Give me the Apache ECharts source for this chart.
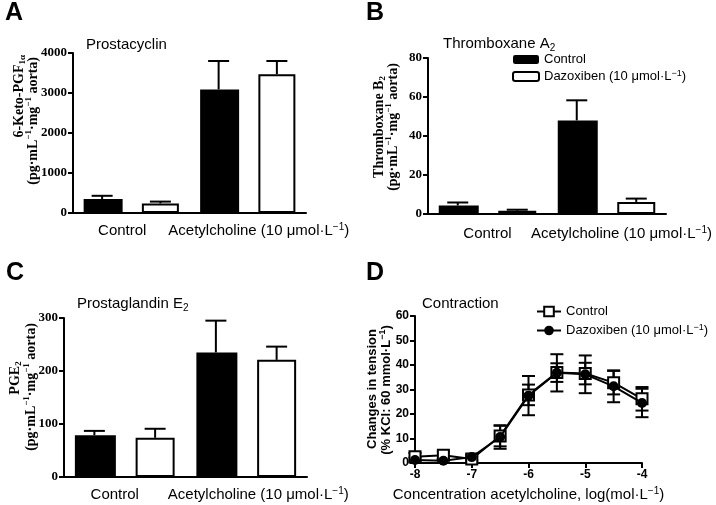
<!DOCTYPE html>
<html><head><meta charset="utf-8">
<script src="https://cdn.jsdelivr.net/npm/echarts@6/dist/echarts.min.js"></script>
<style>html,body{margin:0;padding:0;background:#fff}#c{width:716px;height:505px}</style>
</head><body><div id="c"></div>
<script>
// ---------- data ----------
const barSlots = ['Control/Control', 'Control/Dazoxiben', 'ACh/Control', 'ACh/Dazoxiben'];
const groupLabels = ['Control', 'Acetylcholine (10 μmol·L{sup|−1})'];
const seriesNames = ['Control', 'Dazoxiben (10 μmol·L−1)'];

// Panel A: 6-keto-PGF1α  [Control group, Acetylcholine group]
const pgiControl = [350, 3090];
const pgiControlErr = [80, 710];
const pgiDazoxiben = [240, 3470];
const pgiDazoxibenErr = [45, 330];
const pgiTicks = [0, 1000, 2000, 3000, 4000];

// Panel B: thromboxane B2
const txControl = [4.4, 48.0];
const txControlErr = [1.5, 10.3];
const txDazoxiben = [1.7, 6.2];
const txDazoxibenErr = [0.5, 1.7];
const txTicks = [0, 20, 40, 60, 80];

// Panel C: PGE2
const pgeControl = [79, 235];
const pgeControlErr = [8, 60];
const pgeDazoxiben = [74, 221];
const pgeDazoxibenErr = [17, 25];
const pgeTicks = [0, 100, 200, 300];

// Panel D: contraction
const logConc = [-8, -7.5, -7, -6.5, -6, -5.5, -5, -4.5, -4];
const contrControl = [2.6, 3.2, 1.6, 11.0, 27.8, 36.9, 36.5, 32.8, 26.2];
const contrControlErr = [1.5, 1.5, 1.0, 4.2, 4.2, 3.8, 4.4, 4.8, 4.8];
const contrDazoxiben = [1.2, 0.9, 2.4, 10.6, 27.5, 36.8, 36.2, 31.3, 24.5];
const contrDazoxibenErr = [1.0, 0.8, 1.0, 4.8, 8.0, 7.6, 7.7, 6.5, 5.8];
const contrYTicks = [0, 10, 20, 30, 40, 50, 60];
const contrXTicks = [-8, -7, -6, -5, -4];

// ---------- styling ----------
const SANS = 'Liberation Sans, Arial, sans-serif';
const SERIF = 'Liberation Serif, Times New Roman, serif';
const supStyle = (fs, ff, fw) => ({ fontSize: fs, fontFamily: ff, fontWeight: fw || 'normal', verticalAlign: 'top', lineHeight: fs, color: '#000' });
const subStyle = (fs, ff, fw) => ({ fontSize: fs, fontFamily: ff, fontWeight: fw || 'normal', verticalAlign: 'bottom', lineHeight: fs, color: '#000' });

const chart = echarts.init(document.getElementById('c'));

const grids = [
  { left: 73, top: 53, width: 233, height: 160 },
  { left: 428, top: 58, width: 238, height: 156 },
  { left: 64, top: 318, width: 243, height: 159 },
  { left: 415, top: 316, width: 227, height: 151 }
];

const barPanels = [
  { ctl: pgiControl, ctlE: pgiControlErr, daz: pgiDazoxiben, dazE: pgiDazoxibenErr, ticks: pgiTicks, barW: 39, pad: [[0, 18, 0, 0], [0, 0, 0, 22]], margin: 9 },
  { ctl: txControl, ctlE: txControlErr, daz: txDazoxiben, dazE: txDazoxibenErr, ticks: txTicks, barW: 40, pad: [[0, 0, 0, 0], [0, 0, 0, 30]], margin: 11 },
  { ctl: pgeControl, ctlE: pgeControlErr, daz: pgeDazoxiben, dazE: pgeDazoxibenErr, ticks: pgeTicks, barW: 41, pad: [[0, 20, 0, 0], [0, 0, 0, 24]], margin: 9 }
];

const axisLine = { show: true, lineStyle: { color: '#000', width: 2 } };
const xAxes = [], yAxes = [], series = [];

function barErr(params, api) {
  const x = api.value(0), m = api.value(1), e = api.value(2);
  const p0 = api.coord([x, m]), p1 = api.coord([x, m + e]);
  const hw = 10.5;
  return { type: 'group', children: [
    { type: 'line', shape: { x1: p0[0], y1: p0[1], x2: p1[0], y2: p1[1] }, style: { stroke: '#000', lineWidth: 2 } },
    { type: 'line', shape: { x1: p1[0] - hw, y1: p1[1], x2: p1[0] + hw, y2: p1[1] }, style: { stroke: '#000', lineWidth: 2 } }
  ]};
}
function symErr(params, api) {
  const x = api.value(0), m = api.value(1), e = api.value(2);
  const p0 = api.coord([x, m - e]), p1 = api.coord([x, m + e]);
  const hw = 6.5;
  const st = { stroke: '#000', lineWidth: 2 };
  return { type: 'group', children: [
    { type: 'line', shape: { x1: p0[0], y1: p0[1], x2: p1[0], y2: p1[1] }, style: st },
    { type: 'line', shape: { x1: p1[0] - hw, y1: p1[1], x2: p1[0] + hw, y2: p1[1] }, style: st },
    { type: 'line', shape: { x1: p0[0] - hw, y1: p0[1], x2: p0[0] + hw, y2: p0[1] }, style: st }
  ]};
}

barPanels.forEach((p, i) => {
  const slotAxis = xAxes.length;
  xAxes.push({ gridIndex: i, type: 'category', data: barSlots, position: 'bottom', boundaryGap: true,
    axisLine, axisTick: { show: false }, axisLabel: { show: false }, splitLine: { show: false } });
  xAxes.push({ gridIndex: i, type: 'category', data: groupLabels.map((g, k) => ({ value: g, textStyle: { padding: p.pad[k] } })),
    position: 'bottom', boundaryGap: true, axisLine: { show: false }, axisTick: { show: false }, splitLine: { show: false },
    axisLabel: { interval: 0, margin: p.margin, color: '#000', fontSize: 15, fontFamily: SANS, lineHeight: 18,
      rich: { sup: supStyle(10, SANS) } } });
  yAxes.push({ gridIndex: i, type: 'value', min: p.ticks[0], max: p.ticks[p.ticks.length - 1], interval: p.ticks[1] - p.ticks[0],
    axisLine, axisTick: { show: true, length: 5, lineStyle: { color: '#000', width: 2 } }, splitLine: { show: false },
    axisLabel: { color: '#000', fontSize: 13, fontWeight: 'bold', fontFamily: SERIF, margin: 6, formatter: v => String(v) } });
  series.push({ name: seriesNames[0], type: 'bar', xAxisIndex: slotAxis, yAxisIndex: i, barWidth: p.barW, barGap: '-100%',
    data: [p.ctl[0], '-', p.ctl[1], '-'], itemStyle: { color: '#000' }, silent: true });
  series.push({ name: seriesNames[1], type: 'bar', xAxisIndex: slotAxis, yAxisIndex: i, barWidth: p.barW - 2, barGap: '-100%',
    data: ['-', p.daz[0], '-', p.daz[1]], itemStyle: { color: '#fff', borderColor: '#000', borderWidth: 2 }, silent: true });
  series.push({ type: 'custom', xAxisIndex: slotAxis, yAxisIndex: i, renderItem: barErr, silent: true, z: 3,
    encode: { x: 0, y: 1 },
    data: [[0, p.ctl[0], p.ctlE[0]], [1, p.daz[0], p.dazE[0]], [2, p.ctl[1], p.ctlE[1]], [3, p.daz[1], p.dazE[1]]] });
});

// Panel D axes
const dX = xAxes.length;
xAxes.push({ gridIndex: 3, type: 'value', min: contrXTicks[0], max: contrXTicks[contrXTicks.length - 1], interval: contrXTicks[1] - contrXTicks[0],
  axisLine, axisTick: { show: true, length: 5, lineStyle: { color: '#000', width: 2 } }, splitLine: { show: false },
  axisLabel: { color: '#000', fontSize: 12, fontWeight: 'bold', fontFamily: SANS, margin: 6 },
  name: 'Concentration acetylcholine, log(mol·L{sup|−1})', nameLocation: 'middle', nameGap: 23,
  nameTextStyle: { color: '#000', fontSize: 15, fontFamily: SANS, lineHeight: 18, rich: { sup: supStyle(10, SANS) } } });
yAxes.push({ gridIndex: 3, type: 'value', min: contrYTicks[0], max: contrYTicks[contrYTicks.length - 1], interval: contrYTicks[1] - contrYTicks[0],
  axisLine, axisTick: { show: true, length: 5, lineStyle: { color: '#000', width: 2 } }, splitLine: { show: false },
  axisLabel: { color: '#000', fontSize: 12, fontWeight: 'bold', fontFamily: SANS, margin: 6 } });

const dNames = ['Control (contraction)', 'Dazoxiben (contraction)'];
series.push({ type: 'custom', xAxisIndex: dX, yAxisIndex: 3, renderItem: symErr, silent: true, z: 1, encode: { x: 0, y: 1 },
  data: logConc.map((x, k) => [x, contrControl[k], contrControlErr[k]]) });
series.push({ type: 'custom', xAxisIndex: dX, yAxisIndex: 3, renderItem: symErr, silent: true, z: 1, encode: { x: 0, y: 1 },
  data: logConc.map((x, k) => [x, contrDazoxiben[k], contrDazoxibenErr[k]]) });
series.push({ name: dNames[0], type: 'line', xAxisIndex: dX, yAxisIndex: 3, z: 2,
  data: logConc.map((x, k) => [x, contrControl[k]]), symbol: 'rect', symbolSize: 11, showAllSymbol: true,
  lineStyle: { color: '#000', width: 2 }, itemStyle: { color: '#fff', borderColor: '#000', borderWidth: 2 }, silent: true });
series.push({ name: dNames[1], type: 'line', xAxisIndex: dX, yAxisIndex: 3, z: 3,
  data: logConc.map((x, k) => [x, contrDazoxiben[k]]), symbol: 'circle', symbolSize: 10, showAllSymbol: true,
  lineStyle: { color: '#000', width: 2 }, itemStyle: { color: '#000', borderColor: '#000', borderWidth: 0 }, silent: true });

const titleText = (text, left, top, big) => ({
  text, left, top, padding: 0,
  textStyle: big ? { fontSize: 25, fontWeight: 'bold', fontFamily: SANS, color: '#000' }
                 : { fontSize: 15, fontWeight: 'normal', fontFamily: SANS, color: '#000', lineHeight: 18,
                     rich: { sub: subStyle(10, SANS) } }
});

const yName = (text, x, y, align, ff, fs, fw) => ({
  type: 'text', x, y, rotation: Math.PI / 2, silent: true,
  style: { text, align, verticalAlign: 'middle', fill: '#000', fontSize: fs, fontFamily: ff, fontWeight: fw, lineHeight: fs + 3,
    rich: { sup: supStyle(9, ff, fw), sub: subStyle(9, ff, fw) } }
});

const legendText = { fontSize: 13, fontFamily: SANS, color: '#000', lineHeight: 15, rich: { sup: supStyle(9, SANS) } };

chart.setOption({
  animation: false,
  backgroundColor: '#fff',
  title: [
    titleText('A', 5, 1, true), titleText('Prostacyclin', 86, 36),
    titleText('B', 366, 1, true), titleText('Thromboxane A{sub|2}', 443, 35),
    titleText('C', 6, 261, true), titleText('Prostaglandin E{sub|2}', 77, 295),
    titleText('D', 366, 261, true), titleText('Contraction', 422, 295)
  ],
  legend: [
    { data: seriesNames, orient: 'vertical', left: 512, top: 52, padding: 0, itemWidth: 26, itemHeight: 9, itemGap: 2,
      selectedMode: false, textStyle: legendText,
      formatter: n => n === seriesNames[1] ? 'Dazoxiben (10 μmol·L{sup|−1})' : n },
    { data: dNames, orient: 'vertical', left: 536, top: 304, padding: 0, itemWidth: 24, itemHeight: 12, itemGap: 4,
      selectedMode: false, textStyle: legendText,
      formatter: n => n === dNames[1] ? 'Dazoxiben (10 μmol·L{sup|−1})' : 'Control' }
  ],
  grid: grids,
  xAxis: xAxes,
  yAxis: yAxes,
  series,
  graphic: [
    yName('6-Keto-PGF{sub|1α}', 19, 55, 'right', SERIF, 14, 'bold'),
    yName('(pg·mL{sup|−1}·mg{sup|−1} aorta)', 33, 57, 'right', SERIF, 14, 'bold'),
    yName('Thromboxane B{sub|2}', 379, 127, 'center', SERIF, 14, 'bold'),
    yName('(pg·mL{sup|−1}·mg{sup|−1} aorta)', 393, 127, 'center', SERIF, 14, 'bold'),
    yName('PGE{sub|2}', 15, 378, 'center', SERIF, 14, 'bold'),
    yName('(pg·mL{sup|−1}·mg{sup|−1} aorta)', 31, 387, 'center', SERIF, 14, 'bold'),
    yName('Changes in tension', 372, 389, 'center', SANS, 13, 'bold'),
    yName('(% KCl: 60 mmol·L{sup|−1})', 386, 390, 'center', SANS, 13, 'bold')
  ]
});
</script></body></html>
